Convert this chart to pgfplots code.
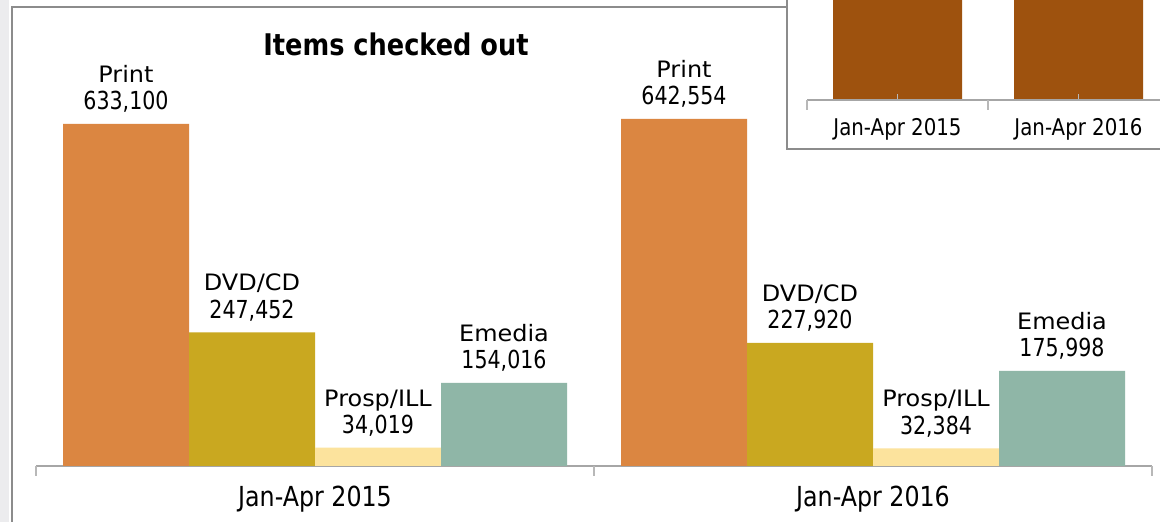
\documentclass[border=0pt]{standalone}
\usepackage{fontspec}
\setmainfont{DejaVu Sans}[FakeStretch=0.86]
\newfontfamily\lblname{DejaVu Sans}[FakeStretch=1.06]
\newfontfamily\numfont{DejaVu Sans}[FakeStretch=0.83]
\usepackage{pgfplots}
\usepackage{pgfplotstable}
\pgfplotsset{compat=1.18}
\definecolor{cPrint}{HTML}{DB8641}
\definecolor{cDVD}{HTML}{C9A820}
\definecolor{cProsp}{HTML}{FCE39D}
\definecolor{cEmedia}{HTML}{8FB6A7}
\definecolor{cBrown}{HTML}{9E520E}
\definecolor{cFrame}{HTML}{8C8C8C}
\definecolor{cAxis}{HTML}{A6A6A6}
\definecolor{cTick}{HTML}{B8B8B8}
\definecolor{cStrip}{HTML}{ECECEE}
\pgfplotstableread{
x print dvd prosp emedia
0 633100 247452 34019 154016
1 642554 227920 32384 175998
}\itemsdata
\pgfplotstableread{
x total
0 1068587
1 1078856
}\totaldata
\newcommand{\lblfont}{\numfont\fontsize{12.4}{13.8}\selectfont}
\newcommand{\nm}[1]{{\lblname\fontsize{11.3}{13.8}\selectfont #1}}
\newcommand{\insetfont}{\fontsize{11.5}{12.5}\selectfont}
\newcommand{\tickfont}{\fontsize{13.8}{15}\selectfont}
\begin{document}
\begin{tikzpicture}
\useasboundingbox (0,0) rectangle (580pt,261pt);
\clip (0,0) rectangle (580pt,261pt);
\fill[white] (0,0) rectangle (580pt,261pt);
\fill[cStrip] (0,0) rectangle (4.5pt,261pt);
\draw[cFrame, line width=1pt] (6pt,-5pt) -- (6pt,257.5pt) -- (400pt,257.5pt);
\begin{axis}[
  at={(18pt,28pt)}, anchor=south west,
  scale only axis, width=558pt, height=218pt,
  ybar=0pt, bar width=63pt,
  xmin=-0.5, xmax=1.5, ymin=0, ymax=807000,
  clip=false,
  axis x line=bottom, axis y line=none,
  x axis line style={-, draw=cAxis, line width=1pt},
  xtick={0,1}, xticklabels={Jan-Apr 2015, Jan-Apr 2016},
  major tick length=0pt,
  extra x ticks={-0.5,0.5,1.5}, extra x tick labels={},
  extra x tick style={major tick length=5pt, tick align=outside, tick style={draw=cTick, line width=1pt}},
  ytick=\empty,
  xticklabel style={font=\tickfont, text=black, yshift=-6.5pt},
  nodes near coords,
  every node near coord/.append style={align=center, font=\lblfont, text=black, yshift=2pt},
  /pgf/number format/assume math mode=true,
  /pgf/number format/fixed,
  /pgf/number format/precision=0,
  /pgf/number format/1000 sep={,},
]
\addplot[fill=cPrint, draw=none, nodes near coords={\nm{Print}\\\pgfmathprintnumber{\pgfplotspointmeta}}] table[x=x,y=print]{\itemsdata};
\addplot[fill=cDVD, draw=none, nodes near coords={\nm{DVD/CD}\\\pgfmathprintnumber{\pgfplotspointmeta}}] table[x=x,y=dvd]{\itemsdata};
\addplot[fill=cProsp, draw=none, nodes near coords={\nm{Prosp/ILL}\\\pgfmathprintnumber{\pgfplotspointmeta}}] table[x=x,y=prosp]{\itemsdata};
\addplot[fill=cEmedia, draw=none, nodes near coords={\nm{Emedia}\\\pgfmathprintnumber{\pgfplotspointmeta}}] table[x=x,y=emedia]{\itemsdata};
\end{axis}
\node[font=\bfseries\fontsize{14.9}{16}\selectfont] at (198pt,239pt) {Items checked out};
% inset chart
\fill[white] (393.5pt,186.5pt) rectangle (590pt,270pt);
\draw[cFrame, line width=1pt] (393.5pt,270pt) -- (393.5pt,186.5pt) -- (590pt,186.5pt);
\begin{axis}[
  at={(403.5pt,211pt)}, anchor=south west,
  scale only axis, width=181pt, height=55pt,
  ybar, bar width=64.5pt,
  xmin=-0.5, xmax=1.5, ymin=0, ymax=1000000,
  axis on top,
  axis x line=bottom, axis y line=none,
  x axis line style={-, draw=cAxis, line width=1pt},
  xtick={0,1}, xticklabels={Jan-Apr 2015, Jan-Apr 2016},
  major tick length=3pt, tick align=inside,
  major tick style={draw=cTick, line width=0.6pt},
  extra x ticks={-0.5,0.5,1.5}, extra x tick labels={},
  extra x tick style={major tick length=5pt, tick align=outside, tick style={draw=cTick, line width=1pt}},
  ytick=\empty,
  xticklabel style={font=\insetfont, text=black, yshift=-5.5pt},
]
\addplot[fill=cBrown, draw=none] table[x=x,y=total]{\totaldata};
\end{axis}
\end{tikzpicture}
\end{document}
